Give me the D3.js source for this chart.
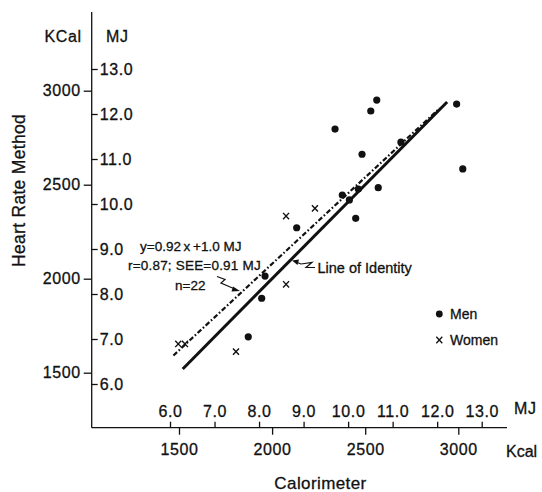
<!DOCTYPE html>
<html>
<head>
<meta charset="utf-8">
<script src="https://cdn.jsdelivr.net/npm/d3@7"></script>
<style>
  html, body { margin: 0; padding: 0; background: #fff; }
  svg { display: block; font-family: "Liberation Sans", Arial, Helvetica, sans-serif; }
  text { fill: #111; stroke: #111; stroke-width: 0.3px; }
</style>
</head>
<body>
<svg id="chart" width="542" height="492"></svg>
<script>
// Energy expenditure: calorimeter (x) vs heart-rate method (y), in kcal
const kcalTicks = [1500, 2000, 2500, 3000];
const mjTicks = [6, 7, 8, 9, 10, 11, 12, 13];

const menCalorimeter = [2562, 2530, 2991, 2338, 2692, 2483, 3024, 2570, 2463, 2377, 2415, 2449, 2132, 1962, 1944, 1872];
const menHeartRate   = [2950, 2892, 2929, 2796, 2726, 2662, 2584, 2484, 2477, 2445, 2419, 2321, 2271, 2014, 1896, 1691];

const womenCalorimeter = [2230, 2075, 2075, 1806, 1496, 1532];
const womenHeartRate   = [2374, 2333, 1970, 1612, 1653, 1653];

// Regression y = 0.92x + 1.0 MJ, and the line of identity (x ranges in kcal)
const regSlope = 0.92, regInterceptMJ = 1.0;
const regRange = [1470, 2900];
const identityRange = [1520, 2940];
const KJ_PER_KCAL = 4.184;

const svg = d3.select("#chart");
const black = "#111";

// Scales (kcal primary, MJ secondary ruler)
const x = d3.scaleLinear().domain([1500, 3000]).range([179, 458.3]);
const y = d3.scaleLinear().domain([1500, 3000]).range([372.7, 90.7]);
const xMJ = d3.scaleLinear().domain([6, 13]).range([170, 481.7]);
const yMJ = d3.scaleLinear().domain([6, 13]).range([384, 69]);

const axisX = 91.7, axisY = 427.7;
const tickFont = "16px";
const tickSpacing = "0.6px";

// Axis lines
svg.append("line").attr("x1", axisX).attr("x2", axisX).attr("y1", 12).attr("y2", axisY)
  .attr("stroke", black).attr("stroke-width", 1.3);
svg.append("line").attr("x1", axisX).attr("x2", 507).attr("y1", axisY).attr("y2", axisY)
  .attr("stroke", black).attr("stroke-width", 1.3);

// Left axis: kcal ticks outward, MJ ticks inward
const yK = svg.append("g").attr("transform", `translate(${axisX},0)`)
  .call(d3.axisLeft(y).tickValues(kcalTicks).tickSize(8).tickPadding(3).tickFormat(d3.format("d")));
const yM = svg.append("g").attr("transform", `translate(${axisX},0)`)
  .call(d3.axisRight(yMJ).tickValues(mjTicks).tickSize(6).tickPadding(2).tickFormat(d3.format(".1f")));

// Bottom axis: MJ ticks above, kcal ticks below
const xM = svg.append("g").attr("transform", `translate(0,${axisY})`)
  .call(d3.axisTop(xMJ).tickValues(mjTicks).tickSize(6).tickPadding(5).tickFormat(d3.format(".1f")));
const xK = svg.append("g").attr("transform", `translate(0,${axisY})`)
  .call(d3.axisBottom(x).tickValues(kcalTicks).tickSize(7).tickPadding(9).tickFormat(d3.format("d")));

[yK, yM, xM, xK].forEach(g => {
  g.select(".domain").remove();
  g.selectAll(".tick line").attr("stroke", black).attr("stroke-width", 1.3);
  g.selectAll(".tick text").attr("fill", black).style("font-size", tickFont)
    .style("font-family", "'Liberation Sans', Arial, sans-serif").style("letter-spacing", tickSpacing);
});

// Unit headers
svg.append("text").attr("x", 81.7).attr("y", 42).attr("text-anchor", "end").style("font-size", tickFont).style("letter-spacing", tickSpacing).text("KCal");
svg.append("text").attr("x", 106).attr("y", 42).attr("text-anchor", "start").style("font-size", tickFont).style("letter-spacing", tickSpacing).text("MJ");
svg.append("text").attr("x", 514).attr("y", 414).attr("text-anchor", "start").style("font-size", tickFont).style("letter-spacing", tickSpacing).text("MJ");
svg.append("text").attr("x", 506).attr("y", 457).attr("text-anchor", "start").style("font-size", tickFont).text("Kcal");

// Axis titles
svg.append("text").attr("x", 320.5).attr("y", 489).attr("text-anchor", "middle")
  .style("font-size", "17px").style("letter-spacing", "0.4px").text("Calorimeter");
svg.append("text").attr("transform", "translate(25,190.5) rotate(-90)").attr("text-anchor", "middle")
  .style("font-size", "17.5px").style("letter-spacing", "0.3px").text("Heart Rate Method");

// Line of identity (solid)
svg.append("line")
  .attr("x1", x(identityRange[0])).attr("y1", y(identityRange[0]))
  .attr("x2", x(identityRange[1])).attr("y2", y(identityRange[1]))
  .attr("stroke", black).attr("stroke-width", 3);

// Regression line (dash-dot)
const regY = k => (regSlope * (k * KJ_PER_KCAL / 1000) + regInterceptMJ) * 1000 / KJ_PER_KCAL;
svg.append("line")
  .attr("x1", x(regRange[0])).attr("y1", y(regY(regRange[0])))
  .attr("x2", x(regRange[1])).attr("y2", y(regY(regRange[1])))
  .attr("stroke", black).attr("stroke-width", 2.2)
  .attr("stroke-dasharray", "5,2.2,1.6,2.2");

// Men: filled dots
svg.append("g").selectAll("circle")
  .data(d3.zip(menCalorimeter, menHeartRate))
  .join("circle")
  .attr("cx", d => x(d[0])).attr("cy", d => y(d[1])).attr("r", 3.6).attr("fill", black);

// Women: crosses
const cross = "M-3,-3.2L3,3.2M3,-3.2L-3,3.2";
svg.append("g").selectAll("path")
  .data(d3.zip(womenCalorimeter, womenHeartRate))
  .join("path")
  .attr("transform", d => `translate(${x(d[0])},${y(d[1])})`)
  .attr("d", cross).attr("stroke", black).attr("stroke-width", 1.4).attr("fill", "none");

// Regression annotation
const ann = svg.append("g").style("font-size", "13.5px");
ann.append("text").attr("x", 140).attr("y", 251).text("y=0.92\u2009x\u2009+1.0  MJ");
ann.append("text").attr("x", 128).attr("y", 270).style("letter-spacing", "0.2px").text("r=0.87; SEE=0.91  MJ");
ann.append("text").attr("x", 175).attr("y", 290).text("n=22");

// Squiggle arrow to the regression line
svg.append("path")
  .attr("d", "M217,276.5 L225,279.5 L221,283 L229,286.5 L236,289.5")
  .attr("fill", "none").attr("stroke", black).attr("stroke-width", 1.2);
svg.append("path").attr("d", "M240,291 L233,286.5 L231.5,291.5 Z").attr("fill", black);

// Line of identity label with zigzag arrow
svg.append("text").attr("x", 317.5).attr("y", 272.5).style("font-size", "14.5px").text("Line of Identity");
svg.append("path")
  .attr("d", "M315,267.5 L306,267.5 L312,262.5 L301,264 L296,262")
  .attr("fill", "none").attr("stroke", black).attr("stroke-width", 1.2);
svg.append("path").attr("d", "M292,260.5 L299,259.5 L297.5,265 Z").attr("fill", black);

// Legend
const legend = svg.append("g").style("font-size", "14px");
legend.append("circle").attr("cx", 439.3).attr("cy", 314).attr("r", 3.4).attr("fill", black);
legend.append("text").attr("x", 450).attr("y", 319).text("Men");
legend.append("path").attr("transform", "translate(439.3,340)").attr("d", cross)
  .attr("stroke", black).attr("stroke-width", 1.3).attr("fill", "none");
legend.append("text").attr("x", 450).attr("y", 345).text("Women");
</script>
</body>
</html>
